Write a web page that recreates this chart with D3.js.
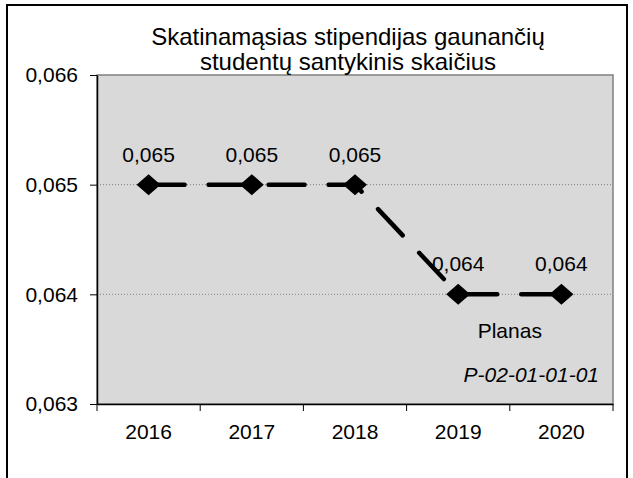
<!DOCTYPE html>
<html lang="lt">
<head>
    <meta charset="UTF-8">
    <title>Skatinamąsias stipendijas gaunančių studentų santykinis skaičius</title>
    <script src="https://d3js.org/d3.v7.min.js"></script>
    <style>
        body { margin: 0; background: white; }
        svg { display: block; font-family: "Liberation Sans", Arial, sans-serif; }
        .axis path, .axis line { stroke: #000; }
        .axis text { font-size: 21px; fill: #000; font-family: "Liberation Sans", Arial, sans-serif; }
        .grid line { stroke: #808080; stroke-width: 1; stroke-dasharray: 1, 2; }
    </style>
</head>
<body>
<svg id="chart" width="633" height="478"></svg>
<script>
    // data
    const years = ["2016", "2017", "2018", "2019", "2020"];
    const values = [0.065, 0.065, 0.065, 0.064, 0.064];
    const valueLabels = ["0,065", "0,065", "0,065", "0,064", "0,064"];
    const yTicks = [0.063, 0.064, 0.065, 0.066];
    const titleLines = ["Skatinamąsias stipendijas gaunančių", "studentų santykinis skaičius"];

    const margin = { top: 75, right: 20, bottom: 74, left: 97 },
          width = 633 - margin.left - margin.right,
          height = 478 - margin.top - margin.bottom;

    const root = d3.select("#chart");

    // outer frame
    root.append("rect")
        .attr("x", 7).attr("y", 5)
        .attr("width", 620).attr("height", 490)
        .attr("fill", "none")
        .attr("stroke", "#000")
        .attr("stroke-width", 2);

    const svg = root.append("g")
        .attr("transform", `translate(${margin.left},${margin.top})`);

    const x = d3.scaleBand().domain(years).range([0, width]);
    const y = d3.scaleLinear().domain([0.063, 0.066]).range([height, 0]);
    const fmt = d => d3.format(".3f")(d).replace(".", ",");

    // plot background
    svg.append("rect")
        .attr("width", width).attr("height", height)
        .attr("fill", "#d9d9d9")
        .attr("stroke", "#808080")
        .attr("stroke-width", 1.5);

    // gridlines
    svg.append("g").attr("class", "grid")
        .selectAll("line")
        .data([0.064, 0.065])
        .join("line")
        .attr("x1", 0).attr("x2", width)
        .attr("y1", d => y(d)).attr("y2", d => y(d));

    // axes
    svg.append("g").attr("class", "axis")
        .call(d3.axisLeft(y).tickValues(yTicks).tickFormat(fmt).tickSize(7).tickSizeOuter(0).tickPadding(12))
        .call(g => g.select(".domain").attr("stroke-width", 1.5));

    const xAxis = svg.append("g").attr("class", "axis")
        .attr("transform", `translate(0,${height})`)
        .call(d3.axisBottom(x).tickSize(0).tickPadding(20))
        .call(g => g.select(".domain").attr("stroke-width", 1.5));

    // category separator ticks
    xAxis.selectAll(".sep")
        .data(d3.range(years.length + 1))
        .join("line")
        .attr("class", "sep")
        .attr("x1", i => i * x.step()).attr("x2", i => i * x.step())
        .attr("y1", 0).attr("y2", 7)
        .attr("stroke", "#000");

    // line
    const line = d3.line()
        .x((d, i) => x(years[i]) + x.bandwidth() / 2)
        .y(d => y(d));

    svg.append("path")
        .datum(values)
        .attr("d", line)
        .attr("fill", "none")
        .attr("stroke", "#000")
        .attr("stroke-width", 4.5)
        .attr("stroke-linecap", "round")
        .attr("stroke-dasharray", "36,24");

    // markers
    svg.selectAll(".marker")
        .data(values)
        .join("path")
        .attr("class", "marker")
        .attr("transform", (d, i) => `translate(${x(years[i]) + x.bandwidth() / 2},${y(d)})`)
        .attr("d", "M0,-10.5L12,0L0,10.5L-12,0Z")
        .attr("fill", "#000");

    // value labels
    svg.selectAll(".vlabel")
        .data(values)
        .join("text")
        .attr("class", "vlabel")
        .attr("x", (d, i) => x(years[i]) + x.bandwidth() / 2)
        .attr("y", d => y(d) - 23)
        .attr("text-anchor", "middle")
        .attr("font-size", 21)
        .text((d, i) => valueLabels[i]);

    // annotations
    svg.append("text")
        .attr("x", x("2019") + x.bandwidth())
        .attr("y", y(0.064) + 44)
        .attr("text-anchor", "middle")
        .attr("font-size", 21)
        .text("Planas");

    svg.append("text")
        .attr("x", width - 14)
        .attr("y", height - 22)
        .attr("text-anchor", "end")
        .attr("font-size", 21)
        .attr("font-style", "italic")
        .text("P-02-01-01-01");

    // title
    root.append("g")
        .selectAll("text")
        .data(titleLines)
        .join("text")
        .attr("x", 348)
        .attr("y", (d, i) => 45 + i * 25)
        .attr("text-anchor", "middle")
        .attr("font-size", 24)
        .text(d => d);
</script>
</body>
</html>
